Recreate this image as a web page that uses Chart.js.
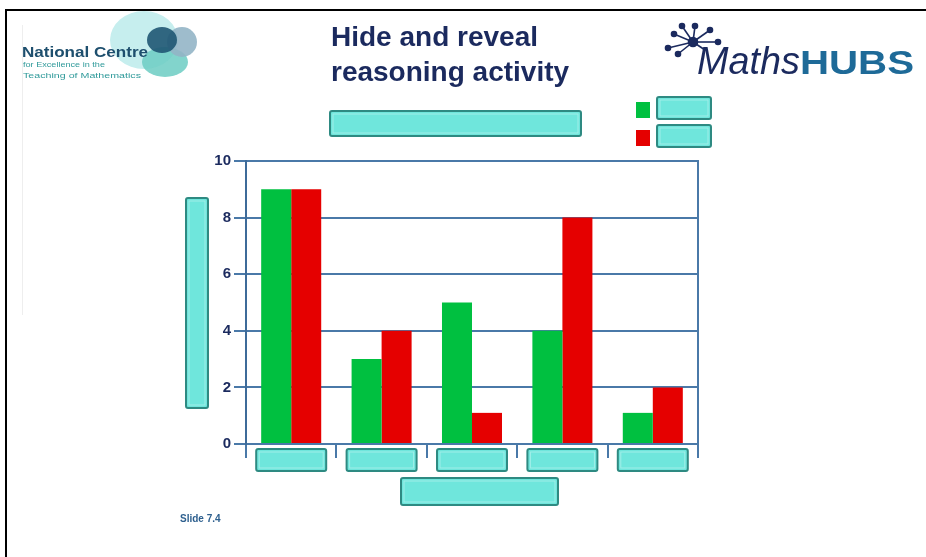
<!DOCTYPE html>
<html>
<head>
<meta charset="utf-8">
<script src="https://cdn.jsdelivr.net/npm/chart.js@4/dist/chart.umd.min.js"></script>
<style>
  html,body{margin:0;padding:0;background:#fff;}
  #wrap{position:relative;width:926px;height:557px;overflow:hidden;background:#fff;}
  #c{position:absolute;left:0;top:0;}
  .ov{position:absolute;font-family:"Liberation Sans",Arial,sans-serif;}
  #title{left:331px;top:19px;font-size:28px;font-weight:bold;color:#1b2a5e;line-height:35px;}
  #slide{left:180px;top:513px;font-size:10px;font-weight:bold;color:#2d5f8e;}
  #bt{left:5px;top:9px;width:921px;height:2px;background:#000;}
  #bl{left:5px;top:9px;width:2px;height:548px;background:#000;}
  #faint{left:22px;top:25px;width:1px;height:290px;background:#eeeeee;}
</style>
</head>
<body>
<div id="wrap">
  <canvas id="c" width="926" height="557"></canvas>
  <div class="ov" id="bt"></div>
  <div class="ov" id="bl"></div>
  <div class="ov" id="faint"></div>
  <svg class="ov" style="left:0;top:0" width="230" height="100" viewBox="0 0 230 100">
    <ellipse cx="144" cy="40" rx="34" ry="29" fill="#c6eeee"/>
    <ellipse cx="165" cy="62" rx="23" ry="15" fill="#6ccdc3" opacity="0.85"/>
    <ellipse cx="182" cy="42" rx="15" ry="15" fill="#93b5c6" opacity="0.9"/>
    <ellipse cx="162" cy="40" rx="15" ry="13" fill="#1f5673" opacity="0.9"/>
    <text x="22" y="57" font-family="Liberation Sans, Arial, sans-serif" font-size="15" font-weight="bold" fill="#1e4f6e" textLength="126" lengthAdjust="spacingAndGlyphs">National Centre</text>
    <text x="23" y="67" font-family="Liberation Sans, Arial, sans-serif" font-size="8" fill="#2f9a9a" textLength="82" lengthAdjust="spacingAndGlyphs">for Excellence in the</text>
    <text x="23" y="78" font-family="Liberation Sans, Arial, sans-serif" font-size="8" fill="#2f9a9a" textLength="118" lengthAdjust="spacingAndGlyphs">Teaching of Mathematics</text>
  </svg>
  <svg class="ov" style="left:660px;top:20px" width="266" height="70" viewBox="0 0 266 70">
    <g stroke="#1b2a5e" stroke-width="1.6" fill="#1b2a5e">
      <line x1="33" y1="22" x2="14" y2="14"/>
      <line x1="33" y1="22" x2="22" y2="6"/>
      <line x1="33" y1="22" x2="35" y2="6"/>
      <line x1="33" y1="22" x2="50" y2="10"/>
      <line x1="33" y1="22" x2="58" y2="22"/>
      <line x1="33" y1="22" x2="8" y2="28"/>
      <line x1="33" y1="22" x2="18" y2="34"/>
      <line x1="33" y1="22" x2="45" y2="30"/>
      <circle cx="33" cy="22" r="4.5"/>
      <circle cx="14" cy="14" r="2.5"/>
      <circle cx="22" cy="6" r="2.5"/>
      <circle cx="35" cy="6" r="2.5"/>
      <circle cx="50" cy="10" r="2.5"/>
      <circle cx="58" cy="22" r="2.5"/>
      <circle cx="8" cy="28" r="2.5"/>
      <circle cx="18" cy="34" r="2.5"/>
    </g>
    <text x="37" y="54" font-family="Liberation Sans, Arial, sans-serif" font-size="39" font-style="italic" fill="#1b2a5e" textLength="103" lengthAdjust="spacingAndGlyphs">Maths</text>
    <text x="140" y="54" font-family="Liberation Sans, Arial, sans-serif" font-size="34" font-weight="bold" fill="#1e6a98" textLength="114" lengthAdjust="spacingAndGlyphs">HUBS</text>
  </svg>
  <div class="ov" id="title">Hide and reveal<br>reasoning activity</div>
  <div class="ov" id="slide">Slide 7.4</div>
</div>
<script>
// ---- data ----
const categories = ['Category 1', 'Category 2', 'Category 3', 'Category 4', 'Category 5'];
const seriesNames = ['Series 1', 'Series 2'];
const greenValues = [9, 3, 5, 4, 1.1];
const redValues = [9, 4, 1.1, 8, 2];
const yTicks = [0, 2, 4, 6, 8, 10];

const GRID = '#4a79a8';
const CYAN = '#6fe6dc';
const CYAN_EDGE = '#2e8a82';
const GREEN = '#00c040';
const RED = '#e50000';

function coverBox(ctx, x, y, w, h) {
  ctx.save();
  ctx.fillStyle = CYAN;
  ctx.strokeStyle = CYAN_EDGE;
  ctx.lineWidth = 2;
  ctx.beginPath();
  if (ctx.roundRect) ctx.roundRect(x, y, w, h, 2); else ctx.rect(x, y, w, h);
  ctx.fill();
  ctx.stroke();
  ctx.strokeStyle = 'rgba(255,255,255,0.35)';
  ctx.lineWidth = 1;
  ctx.strokeRect(x + 3, y + 3, w - 6, h - 6);
  ctx.restore();
}

const coverPlugin = {
  id: 'covers',
  afterDraw(chart) {
    const ctx = chart.ctx;
    const xs = chart.scales.x;
    const ca = chart.chartArea;
    // category label covers
    categories.forEach((c, i) => {
      const cx = xs.getPixelForValue(i);
      coverBox(ctx, cx - 35, ca.bottom + 5, 70, 22);
    });
    // axis title covers
    coverBox(ctx, 401, ca.bottom + 34, 157, 27);
    coverBox(ctx, 186, 198, 22, 210);
    // chart title cover
    coverBox(ctx, 330, 111, 251, 25);
    // legend
    const colors = [GREEN, RED];
    seriesNames.forEach((s, i) => {
      const y = 97 + i * 28;
      ctx.fillStyle = colors[i];
      ctx.fillRect(636, y + 5, 14, 16);
      coverBox(ctx, 657, y, 54, 22);
    });
  }
};

new Chart(document.getElementById('c'), {
  type: 'bar',
  data: {
    labels: categories,
    datasets: [
      { label: seriesNames[0], data: greenValues, backgroundColor: GREEN, borderWidth: 0 },
      { label: seriesNames[1], data: redValues, backgroundColor: RED, borderWidth: 0 }
    ]
  },
  options: {
    responsive: false,
    animation: false,
    events: [],
    categoryPercentage: 0.664,
    barPercentage: 1,
    layout: { padding: { left: 206, top: 161, right: 228, bottom: 99 } },
    plugins: { legend: { display: false }, title: { display: false }, tooltip: { enabled: false } },
    scales: {
      x: {
        offset: true,
        ticks: { display: false },
        grid: { offset: true, drawOnChartArea: false, drawTicks: true, tickLength: 14, color: GRID, lineWidth: 2 },
        border: { display: true, color: GRID, width: 2 },
        afterFit(s) { s.height = 14; }
      },
      y: {
        min: 0, max: 10,
        afterBuildTicks(s) { s.ticks = yTicks.map(v => ({ value: v })); },
        ticks: {
          color: '#1b2a5e', padding: 3,
          font: { family: 'Liberation Sans, Arial, sans-serif', size: 15, weight: 'bold' }
        },
        grid: { color: GRID, lineWidth: 2, tickLength: 12 },
        border: { display: true, color: '#3e6b99', width: 2 },
        afterFit(s) { s.width = 40; }
      },
      y2: {
        position: 'right',
        min: 0, max: 10,
        ticks: { display: false },
        grid: { drawOnChartArea: false, drawTicks: false },
        border: { display: true, color: GRID, width: 2 },
        afterFit(s) { s.width = 0; }
      }
    }
  },
  plugins: [coverPlugin]
});
</script>
</body>
</html>
